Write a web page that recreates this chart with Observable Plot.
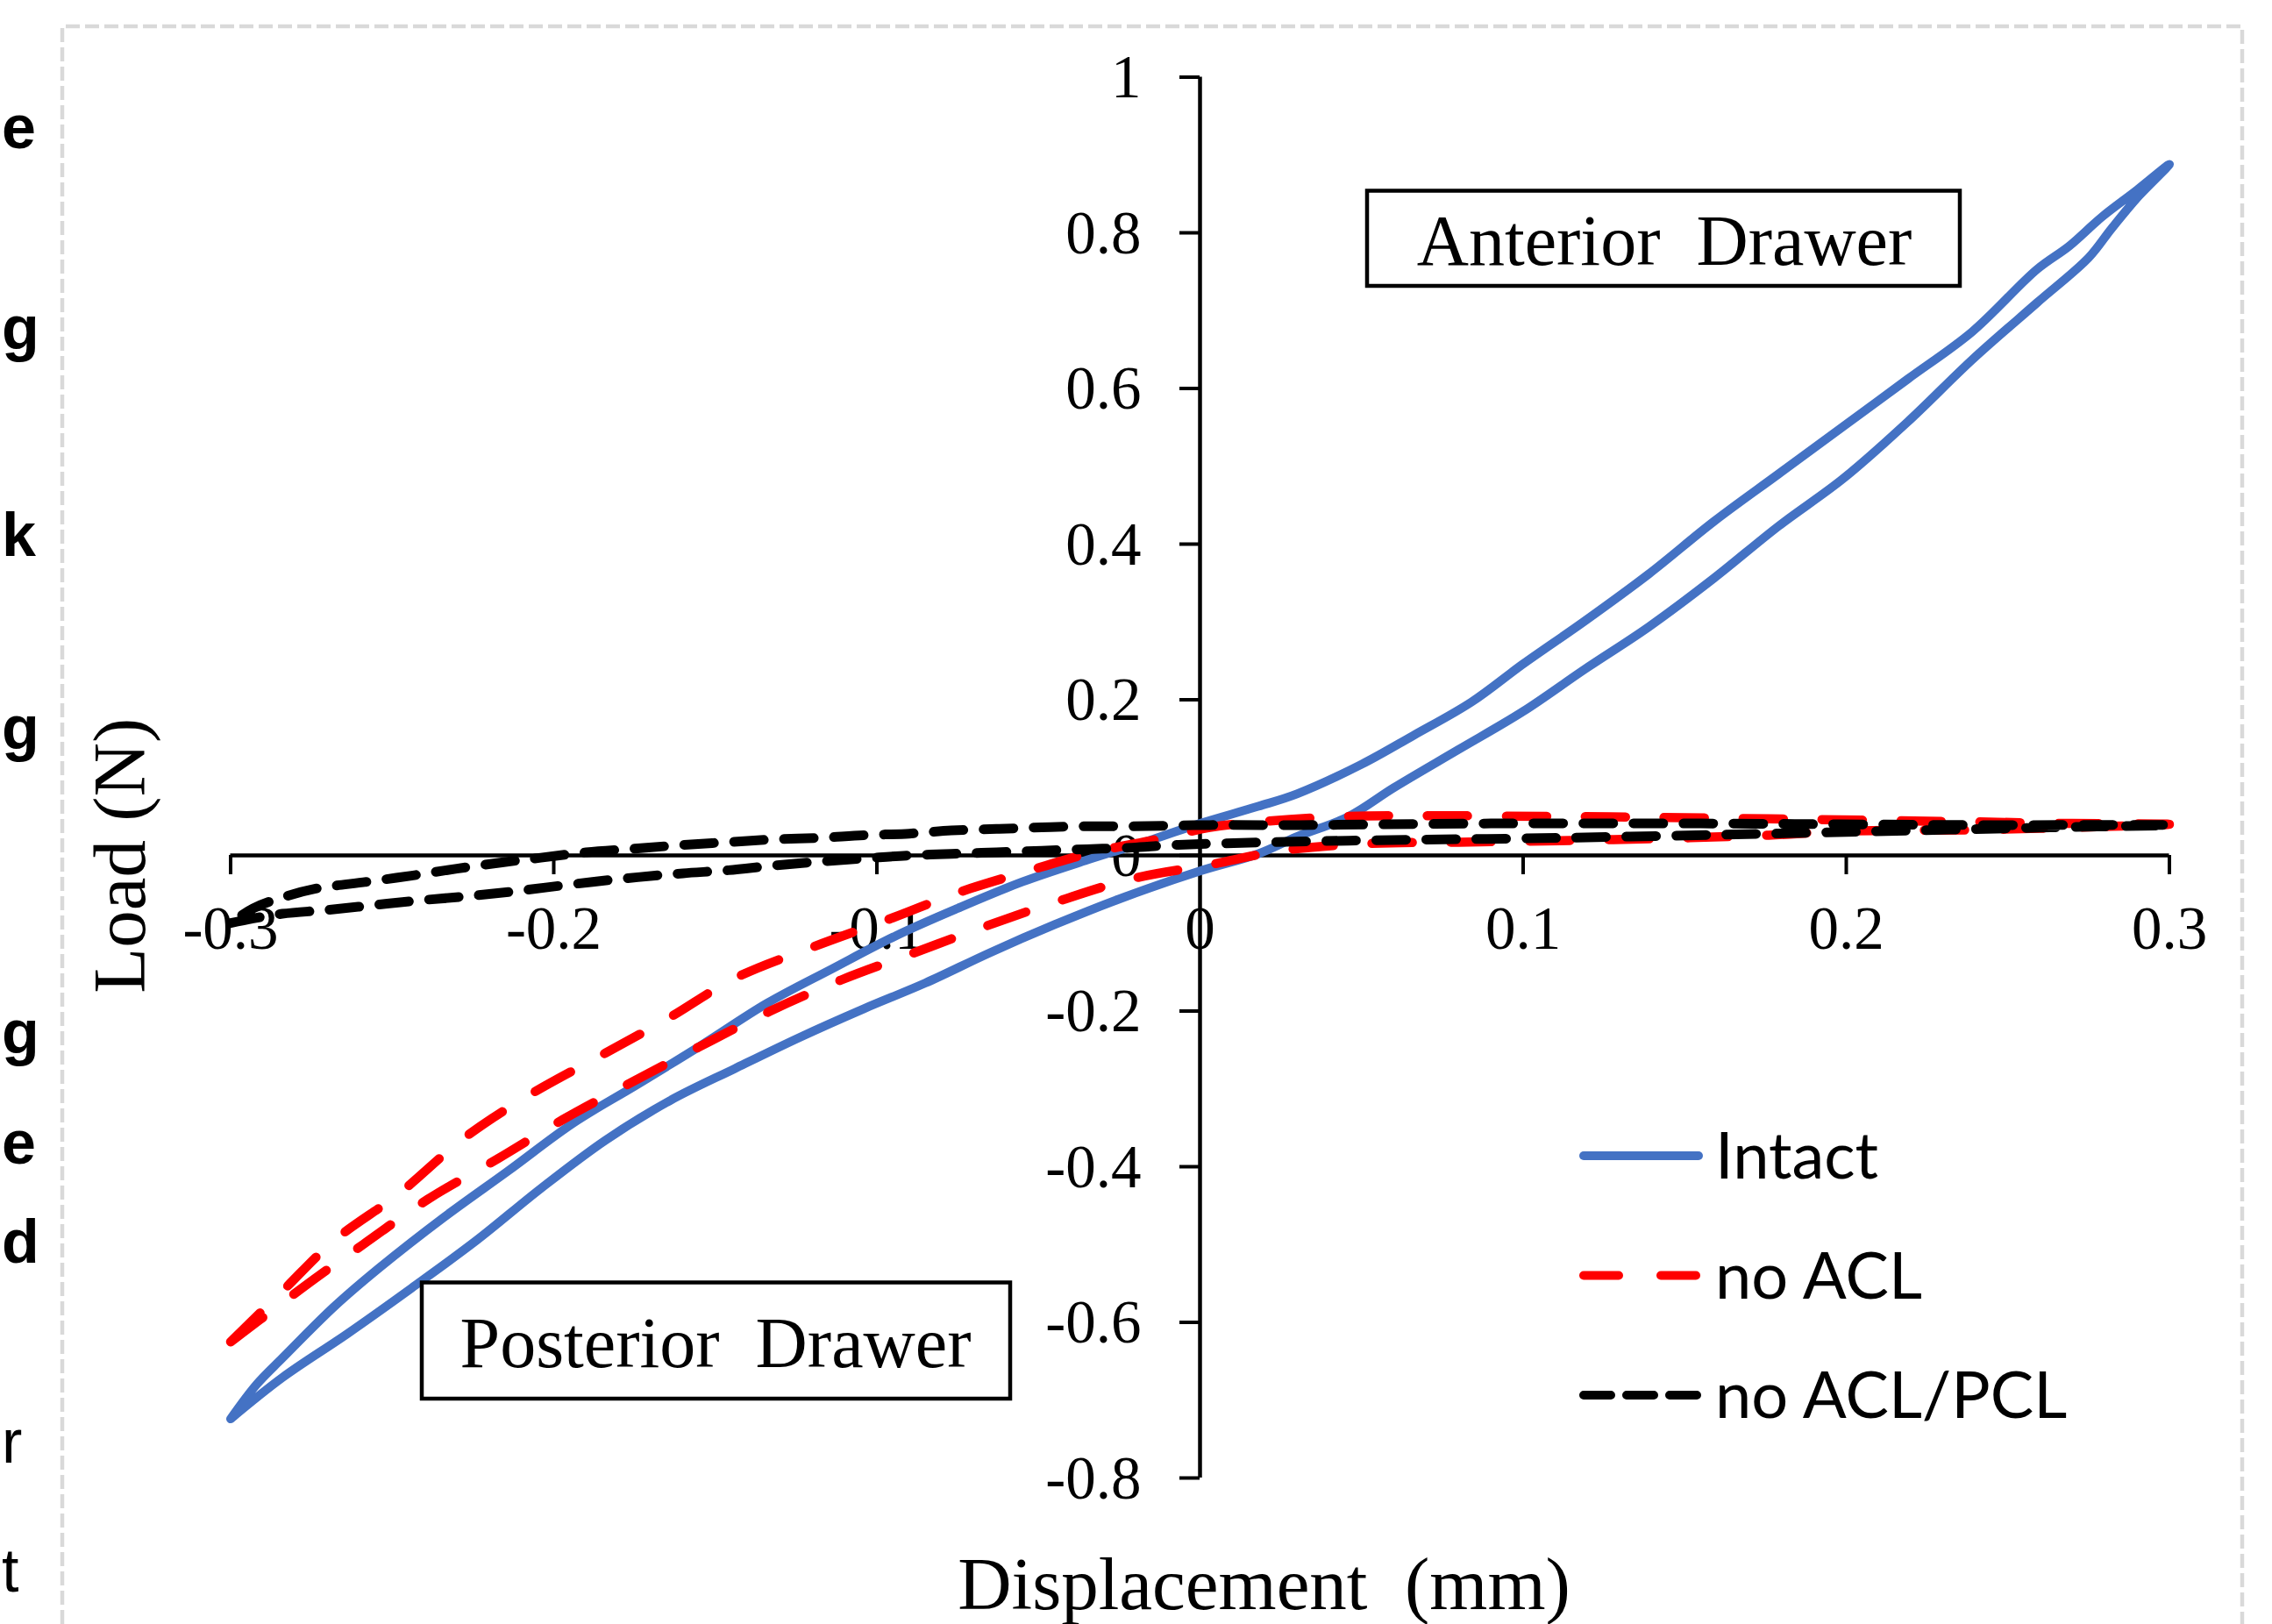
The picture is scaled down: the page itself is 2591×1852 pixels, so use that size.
<!DOCTYPE html>
<html>
<head>
<meta charset="utf-8">
<script src="https://cdn.jsdelivr.net/npm/d3@7"></script>
<script src="https://cdn.jsdelivr.net/npm/@observablehq/plot@0.6"></script>
<style>
  html, body { margin: 0; padding: 0; background: #fff; overflow: hidden; }
  #wrap { position: relative; width: 2591px; height: 1852px; }
  #chart { position: absolute; left: 0; top: 0; }
  #overlay { position: absolute; left: 0; top: 0; pointer-events: none; }
</style>
</head>
<body>
<div id="wrap">
  <div id="chart"></div>
  <svg id="overlay" width="2591" height="1852" xmlns="http://www.w3.org/2000/svg"></svg>
</div>
<script>
// ---------------- data ----------------
const seriesNames = ["Intact", "no ACL", "no ACL/PCL"];

const intactX = [-0.300, -0.284, -0.264, -0.244, -0.224, -0.204, -0.184, -0.164, -0.144, -0.124, -0.104, -0.085, -0.065, -0.045, -0.025, 0.000, 0.018, 0.030, 0.046, 0.060, 0.080, 0.100, 0.119, 0.139, 0.159, 0.179, 0.199, 0.219, 0.239, 0.259, 0.275, 0.282, 0.290, 0.300,
  0.290, 0.279, 0.269, 0.259, 0.239, 0.219, 0.199, 0.179, 0.159, 0.139, 0.119, 0.100, 0.084, 0.066, 0.050, 0.030, 0.018, 0.000, -0.015, -0.035, -0.055, -0.075, -0.094, -0.114, -0.134, -0.154, -0.174, -0.194, -0.214, -0.234, -0.254, -0.268, -0.284, -0.292, -0.300];
const intactY = [-0.724, -0.671, -0.615, -0.556, -0.495, -0.428, -0.366, -0.315, -0.274, -0.234, -0.197, -0.164, -0.125, -0.089, -0.056, -0.020, 0.002, 0.024, 0.050, 0.087, 0.136, 0.185, 0.239, 0.294, 0.356, 0.423, 0.484, 0.557, 0.637, 0.710, 0.768, 0.805, 0.845, 0.888,
  0.855, 0.820, 0.783, 0.753, 0.673, 0.612, 0.551, 0.490, 0.429, 0.362, 0.301, 0.246, 0.197, 0.154, 0.117, 0.079, 0.063, 0.041, 0.020, -0.006, -0.034, -0.068, -0.103, -0.146, -0.190, -0.243, -0.294, -0.344, -0.405, -0.465, -0.530, -0.580, -0.646, -0.680, -0.724];

const noAclX = [-0.300, -0.285, -0.272, -0.259, -0.239, -0.217, -0.197, -0.177, -0.155, -0.133, -0.111, -0.089, -0.067, -0.044, -0.020, 0.003, 0.025, 0.051, 0.080, 0.111, 0.145, 0.176, 0.198, 0.241, 0.270, 0.300,
  0.270, 0.241, 0.210, 0.176, 0.140, 0.111, 0.068, 0.044, 0.018, 0.003, -0.013, -0.034, -0.054, -0.075, -0.095, -0.120, -0.144, -0.164, -0.184, -0.208, -0.228, -0.248, -0.268, -0.284, -0.300];
const noAclY = [-0.625, -0.578, -0.538, -0.500, -0.442, -0.389, -0.339, -0.294, -0.246, -0.200, -0.160, -0.126, -0.092, -0.059, -0.029, -0.012, 0.006, 0.015, 0.017, 0.019, 0.022, 0.026, 0.031, 0.033, 0.036, 0.040,
  0.041, 0.043, 0.045, 0.047, 0.049, 0.050, 0.051, 0.050, 0.043, 0.036, 0.021, 0.003, -0.021, -0.048, -0.080, -0.118, -0.158, -0.208, -0.254, -0.309, -0.364, -0.435, -0.495, -0.560, -0.625];

const noAclPclX = [-0.300, -0.293, -0.284, -0.270, -0.256, -0.242, -0.228, -0.214, -0.202, -0.188, -0.174, -0.160, -0.146, -0.132, -0.118, -0.104, -0.090, -0.077, -0.063, -0.049, -0.035, -0.021, -0.010, 0.003, 0.046, 0.111, 0.176, 0.220, 0.263, 0.300,
  0.241, 0.198, 0.155, 0.090, 0.031, 0.003, -0.021, -0.035, -0.049, -0.063, -0.077, -0.090, -0.104, -0.118, -0.132, -0.146, -0.160, -0.174, -0.190, -0.204, -0.216, -0.230, -0.244, -0.258, -0.274, -0.284, -0.293, -0.300];
const noAclPclY = [-0.087, -0.081, -0.075, -0.070, -0.064, -0.058, -0.053, -0.047, -0.041, -0.034, -0.028, -0.023, -0.019, -0.013, -0.008, -0.004, 0.000, 0.002, 0.004, 0.006, 0.008, 0.010, 0.013, 0.015, 0.019, 0.0225, 0.028, 0.032, 0.036, 0.039,
  0.039, 0.040, 0.041, 0.041, 0.039, 0.039, 0.0375, 0.0375, 0.036, 0.034, 0.032, 0.028, 0.026, 0.0225, 0.0206, 0.017, 0.0135, 0.009, 0.004, -0.003, -0.009, -0.017, -0.026, -0.034, -0.043, -0.054, -0.068, -0.087];

const xTickValues = [-0.3, -0.2, -0.1, 0, 0.1, 0.2, 0.3];
const xTickLabels = ["-0.3", "-0.2", "-0.1", "0", "0.1", "0.2", "0.3"];
const yTickValues = [1, 0.8, 0.6, 0.4, 0.2, 0, -0.2, -0.4, -0.6, -0.8];
const yTickLabels = ["1", "0.8", "0.6", "0.4", "0.2", "0", "-0.2", "-0.4", "-0.6", "-0.8"];

const xTitle = "Displacement\u00A0 (mm)";
const yTitle = "Load (N)";
const annotations = ["Anterior\u00A0 Drawer", "Posterior\u00A0 Drawer"];
const edgeLetters = ["e", "g", "k", "g", "g", "e", "d", "r", "t"];

// ---------------- styles ----------------
const colors = {intact: "#4472C4", noAcl: "#FF0000", noAclPcl: "#000000"};
const serif = "'Liberation Serif', 'Times New Roman', serif";

// ---------------- build ----------------
const zip = (xs, ys) => xs.map((x, i) => ({x, y: ys[i]}));
const intact = zip(intactX, intactY);
const noAcl = zip(noAclX, noAclY);
const noAclPcl = zip(noAclPclX, noAclPclY);
const xTicks = xTickValues.map((v, i) => ({v, label: xTickLabels[i]}));
const yTicks = yTickValues.map((v, i) => ({v, label: yTickLabels[i]}));

const chart = Plot.plot({
  width: 2591,
  height: 1852,
  marginLeft: 262.5,
  marginRight: 117.5,
  marginTop: 87.5,
  marginBottom: 167,
  style: {background: "#fff", fontFamily: serif, fontSize: "69px", color: "#000"},
  x: {domain: [-0.3, 0.3], axis: null},
  y: {domain: [-0.8, 1], axis: null},
  marks: [
    // axes crossing at origin
    Plot.ruleY([0], {stroke: "#000", strokeWidth: 4.5}),
    Plot.ruleX([0], {stroke: "#000", strokeWidth: 4.5}),
    Plot.ruleX(xTicks, {x: "v", y1: () => 0, y2: () => 0, insetBottom: -22, stroke: "#000", strokeWidth: 4}),
    Plot.ruleY(yTicks, {y: "v", x1: () => 0, x2: () => 0, insetLeft: -23, stroke: "#000", strokeWidth: 4}),
    Plot.text(xTicks, {x: "v", y: () => 0, text: "label", dy: 84, fontSize: 69, fontFamily: serif, fill: "#000"}),
    Plot.text(yTicks, {x: () => 0, y: "v", text: "label", textAnchor: "end", dx: -67, dy: 1, fontSize: 69, fontFamily: serif, fill: "#000"}),
    // axis titles
    Plot.text([xTitle], {frameAnchor: "bottom", text: d => d, textAnchor: "middle", lineAnchor: "middle", dx: 73, dy: 122, fontSize: 85, fontFamily: serif, fill: "#000"}),
    Plot.text([yTitle], {frameAnchor: "left", text: d => d, textAnchor: "middle", lineAnchor: "middle", rotate: -90, dx: -125, dy: 89, fontSize: 85, fontFamily: serif, fill: "#000"}),
    // series
    Plot.line(intact, {x: "x", y: "y", stroke: colors.intact, strokeWidth: 10, curve: "catmull-rom", strokeLinecap: "round", strokeLinejoin: "round"}),
    Plot.line(noAcl, {x: "x", y: "y", stroke: colors.noAcl, strokeWidth: 10.5, curve: "catmull-rom", strokeDasharray: "46,44", strokeLinecap: "round", strokeLinejoin: "round"}),
    Plot.line(noAclPcl, {x: "x", y: "y", stroke: colors.noAclPcl, strokeWidth: 11, curve: "catmull-rom", strokeDasharray: "34,23", strokeLinecap: "round", strokeLinejoin: "round"})
  ]
});
document.getElementById("chart").appendChild(chart);

// ---------------- overlay: frame border, text boxes, legend, page edge text ----------------
const ov = d3.select("#overlay");

ov.append("path")
  .attr("d", "M71,1852 V30 H2557 V1852")
  .attr("fill", "none").attr("stroke", "#d9d9d9").attr("stroke-width", 4.5)
  .attr("stroke-dasharray", "16 6");

// annotation boxes
const boxes = [
  {x0: 1559, y0: 217.5, x1: 2235, y1: 326, cx: 1898, base: 302},
  {x0: 481, y0: 1462.5, x1: 1152, y1: 1595, cx: 816, base: 1559}
];
boxes.forEach((b, i) => {
  ov.append("rect").attr("x", b.x0).attr("y", b.y0).attr("width", b.x1 - b.x0).attr("height", b.y1 - b.y0)
    .attr("fill", "#fff").attr("stroke", "#000").attr("stroke-width", 4.5);
  ov.append("text").attr("x", b.cx).attr("y", b.base).attr("text-anchor", "middle")
    .attr("font-family", serif).attr("font-size", 82).attr("fill", "#000")
    .text(annotations[i]);
});

// legend
const legendStyles = [
  {stroke: colors.intact, dash: null},
  {stroke: colors.noAcl, dash: "40,48"},
  {stroke: colors.noAclPcl, dash: "31,18"}
];
seriesNames.forEach((name, i) => {
  const y = 1318 + i * 136.5;
  const ln = ov.append("line").attr("x1", 1806).attr("x2", 1937).attr("y1", y).attr("y2", y)
    .attr("stroke", legendStyles[i].stroke).attr("stroke-width", 10).attr("stroke-linecap", "round");
  if (legendStyles[i].dash) ln.attr("stroke-dasharray", legendStyles[i].dash);
  ov.append("text").attr("x", 1956).attr("y", y + 26).attr("font-family", "Lato, 'Open Sans', sans-serif")
    .attr("font-size", 74).attr("fill", "#000").text(name);
});

// letters of the neighbouring page text at the left edge (kept fully visible)
const letterBase = [169, 398, 634, 854, 1201, 1327, 1440, 1668, 1815];
const letterBold = [true, true, true, true, true, true, true, false, false];
edgeLetters.forEach((ch, i) => {
  ov.append("text").attr("x", 2).attr("y", letterBase[i]).attr("text-anchor", "start")
    .attr("font-family", "'Liberation Sans', Arial, sans-serif").attr("font-size", 70)
    .attr("font-weight", letterBold[i] ? 700 : 400).attr("fill", "#000").text(ch);
});
</script>
</body>
</html>
